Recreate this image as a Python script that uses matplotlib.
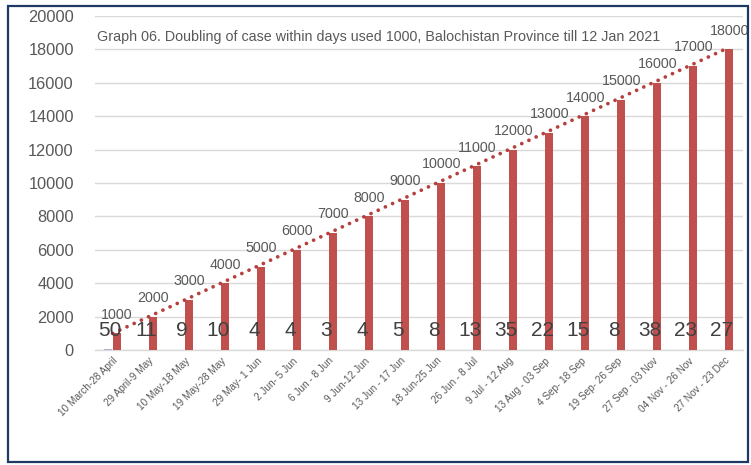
import numpy as np
import matplotlib
matplotlib.use("Agg")
import matplotlib.pyplot as plt
from matplotlib.patches import Rectangle

categories = ["10 March-28 April", "29 April-9 May", "10 May-18 May", "19 May-28 May",
              "29 May- 1 Jun", "2 Jun- 5 Jun", "6 Jun - 8 Jun", "9 Jun-12 Jun",
              "13 Jun - 17 Jun", "18 Jun-25 Jun", "26 Jun - 8 Jul", "9 Jul - 12 Aug",
              "13 Aug - 03 Sep", "4 Sep- 18 Sep", "19 Sep- 26 Sep", "27 Sep - 03 Nov",
              "04 Nov - 26 Nov", "27 Nov - 23 Dec"]
days = [50, 11, 9, 10, 4, 4, 3, 4, 5, 8, 13, 35, 22, 15, 8, 38, 23, 27]
cases = [1000, 2000, 3000, 4000, 5000, 6000, 7000, 8000, 9000, 10000, 11000,
         12000, 13000, 14000, 15000, 16000, 17000, 18000]
yticks = list(range(0, 20001, 2000))
title = "Graph 06. Doubling of case within days used 1000, Balochistan Province till 12 Jan 2021"

plt.rcParams['font.family'] = ['Liberation Sans', 'DejaVu Sans']
gray = '#595959'
red = '#C0504D'

fig = plt.figure(figsize=(7.51, 4.65), dpi=100)
ax = fig.add_axes([0.126, 0.247, 0.863, 0.7186])

x = np.arange(len(categories))
bw = 0.22
off = 0.125
ax.bar(x - off, days, width=bw, color='#A9B4CC', zorder=3)
ax.bar(x + off, cases, width=bw, color=red, zorder=3)

# trend line
coef = np.polyfit(x, cases, 1)
trend = np.polyval(coef, x)
ax.plot(x, trend, color='#B5403D', linewidth=2.7, linestyle=(0, (0.01, 2.1)),
        dash_capstyle='round', zorder=4)

for xi, v in zip(x, cases):
    ax.text(xi + off, v + 700, str(v), ha='center', va='bottom', fontsize=10.3, color=gray, zorder=5)
for xi, d in zip(x, days):
    ax.text(xi - off + 0.05, 1150, str(d), ha='center', va='center', fontsize=15, color='#404040', zorder=5)

ax.set_xlim(-0.5, len(categories) - 0.5)
ax.set_ylim(0, 20000)
ax.set_yticks(yticks)
ax.set_yticklabels([str(t) for t in yticks], fontsize=11.8, color=gray)
ax.set_xticks(x)
ax.set_xticklabels(categories, rotation=45, ha='right', va='top', rotation_mode='anchor',
                   fontsize=7.2, color=gray)
ax.tick_params(axis='both', length=0)
ax.tick_params(axis='y', pad=15)
ax.tick_params(axis='x', pad=4)
ax.grid(axis='y', color='#D9D9D9', linewidth=1, zorder=0)
for s in ['top', 'right', 'left']:
    ax.spines[s].set_visible(False)
ax.spines['bottom'].set_color('#D9D9D9')
ax.spines['bottom'].set_linewidth(1)

fig.text(97 / 751, 1 - 37 / 465, title, ha='left', va='center', fontsize=10.3, color=gray)

fig.patches.append(Rectangle((8 / 751, 3 / 465), 740 / 751, 456 / 465, transform=fig.transFigure,
                             fill=False, edgecolor='#1F3864', linewidth=1.6))

fig.savefig('out.png', dpi=100)
